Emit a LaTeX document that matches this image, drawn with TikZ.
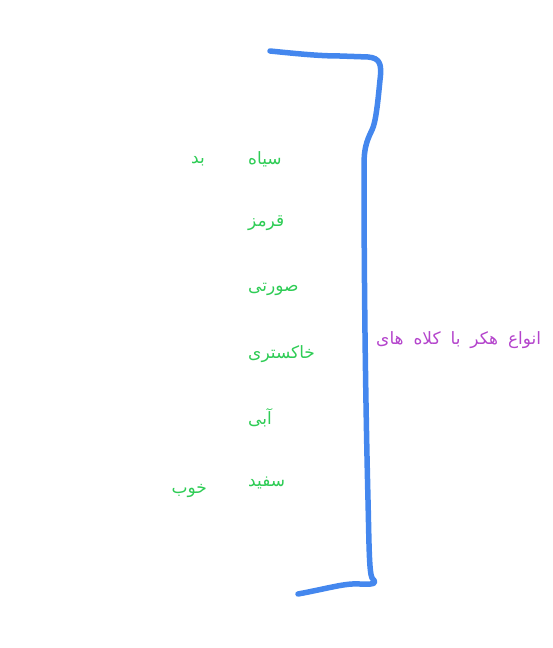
\documentclass[tikz,border=0pt]{standalone}
\usepackage{fontspec}
\TeXXeTstate=1
\newfontfamily\arabicfont[Script=Arabic]{DejaVu Sans}
\definecolor{lblgreen}{HTML}{2ECC55}
\definecolor{ttlpurple}{HTML}{B444CC}
\definecolor{brblue}{HTML}{4487EE}
\begin{document}
\begin{tikzpicture}[x=1pt,y=-1pt,
  lbl/.style={inner sep=0pt,text=lblgreen,font=\arabicfont\fontsize{17}{20}\selectfont},
  ttl/.style={inner sep=0pt,text=ttlpurple,font=\arabicfont\fontsize{17}{20}\selectfont},
  brace/.style={draw=brblue,line width=5.5pt,line cap=round,line join=round}]
\useasboundingbox (0,0) rectangle (552,648);
\node[lbl,anchor=west] (siah) at (248,159) {\beginR سیاه\endR};
\node[lbl,anchor=east] (bad) at (205,161) {\beginR بد\endR};
\node[lbl,anchor=west] (ghermez) at (248,223) {\beginR قرمز\endR};
\node[lbl,anchor=west] (sorati) at (248,289) {\beginR صورتی\endR};
\node[lbl,anchor=west] (khakestari) at (248,354) {\beginR خاکستری\endR};
\node[lbl,anchor=west] (abi) at (248,418) {\beginR آبی\endR};
\node[lbl,anchor=west] (sefid) at (248,483) {\beginR سفید\endR};
\node[lbl,anchor=east] (khoob) at (207,491) {\beginR خوب\endR};
\node[ttl,anchor=west] (title) at (376,340) {\beginR انواع\hspace{4.5pt} هکر\hspace{4.5pt} با\hspace{4.5pt} کلاه\hspace{4.5pt} های\endR};
\coordinate (b1) at (270,51);
\coordinate (b2) at (298,594);
\draw[brace] (b1) .. controls (300,54) and (320,56) .. (340,56)
  -- (368,57) .. controls (380,58) and (382,64) .. (380,80)
  .. controls (378,100) and (376,122) .. (372,130)
  .. controls (366,142) and (364,150) .. (364,165)
  .. controls (364,300) and (366,420) .. (368,500)
  .. controls (369,540) and (369,572) .. (372,578)
  .. controls (376,582) and (378,585) .. (360,584)
  .. controls (345,583) and (330,588) .. (b2);
\end{tikzpicture}
\end{document}
